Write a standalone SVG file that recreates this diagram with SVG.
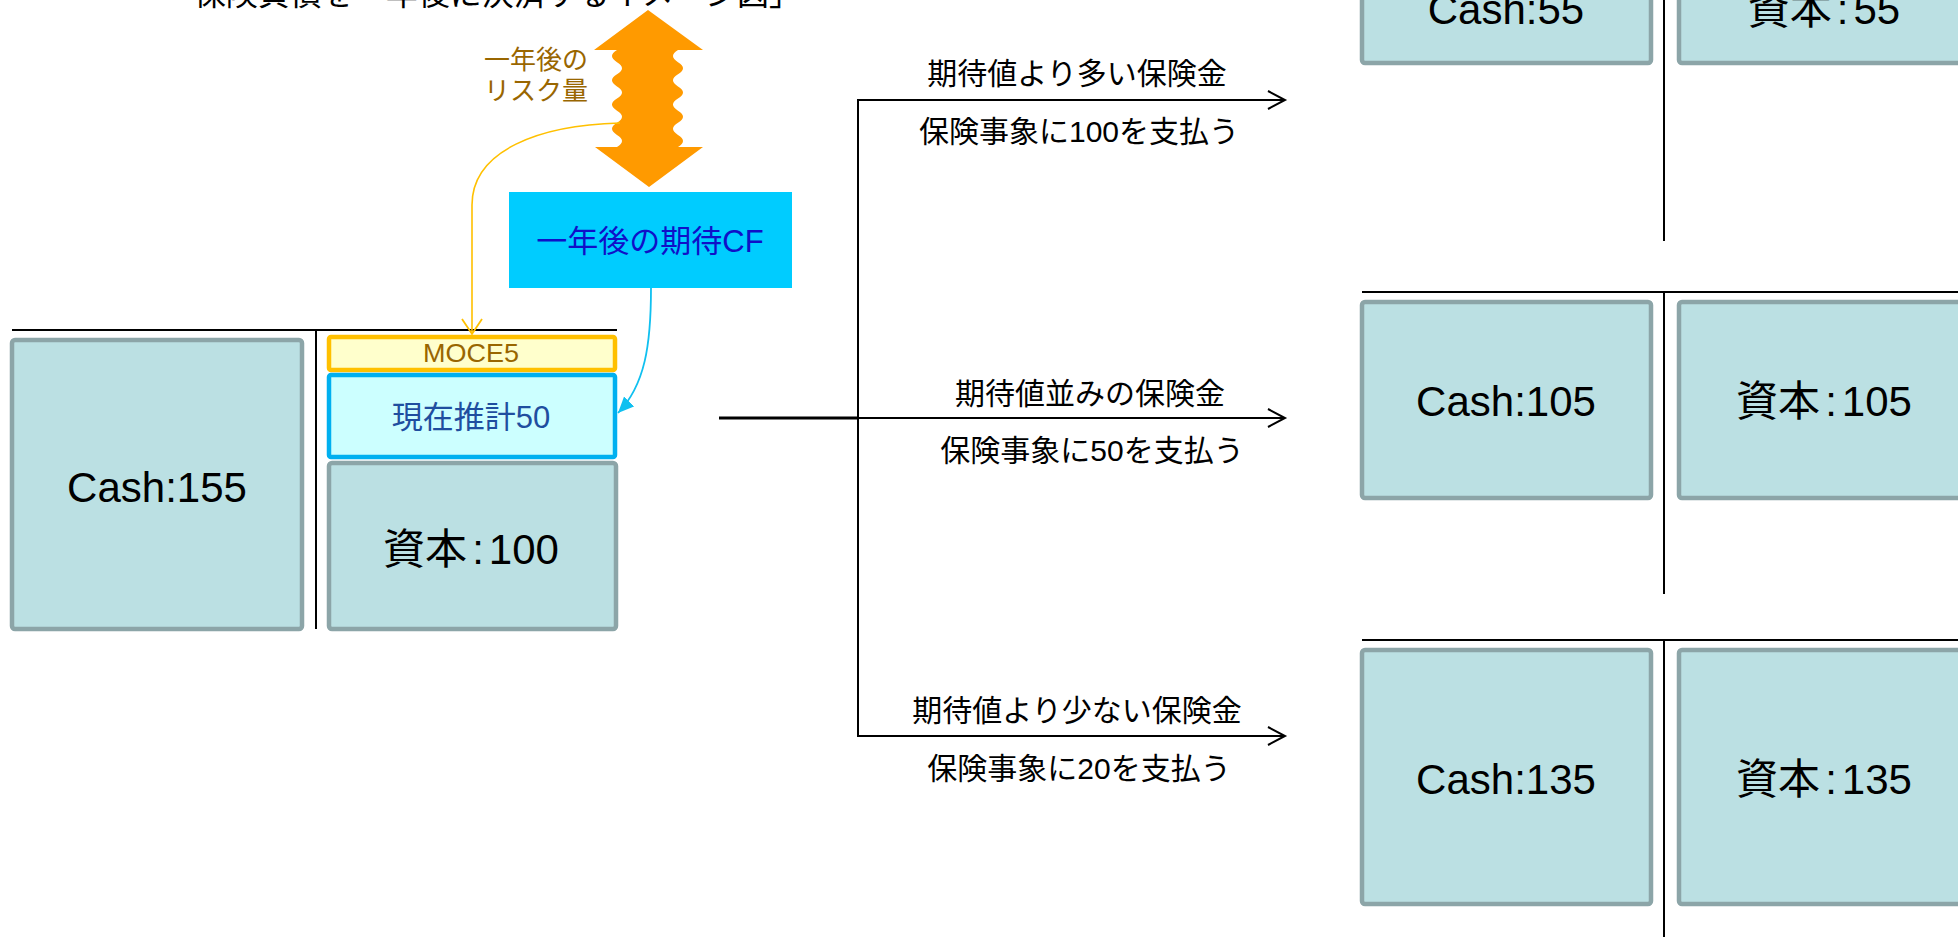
<svg xmlns="http://www.w3.org/2000/svg" width="1958" height="937" viewBox="0 0 1958 937">
<style>
text{font-family:"Liberation Sans","Noto Sans CJK JP",sans-serif;}
.bs{fill:#BBE0E3;stroke:#8CA5A8;stroke-width:4.5;}
.big{font-size:42px;fill:#000;text-anchor:middle;}
.lbl{font-size:30px;fill:#000;text-anchor:middle;}
.tline{stroke:#000;stroke-width:2;fill:none;}
</style>
<defs>
<marker id="openBlack" markerUnits="userSpaceOnUse" markerWidth="22" markerHeight="22" refX="18" refY="10" orient="auto">
<path d="M1,1 L18,10 L1,19" fill="none" stroke="#000" stroke-width="2"/>
</marker>
<marker id="openGold" markerUnits="userSpaceOnUse" markerWidth="26" markerHeight="26" refX="16" refY="11" orient="auto">
<path d="M1,1 L16,11 L1,21" fill="none" stroke="#FFC000" stroke-width="1.8"/>
</marker>
<marker id="fillBlue" markerUnits="userSpaceOnUse" markerWidth="20" markerHeight="20" refX="16" refY="7" orient="auto">
<path d="M0,0 L16,7 L0,14 Z" fill="#10C0F0"/>
</marker>
</defs>

<text id="title" x="801" y="5" font-size="32" text-anchor="end" fill="#000">「保険負債を一年後に決済するイメージ図」</text>

<g id="risk-arrow">
<path fill="#FF9A00" d="M648,10 L703,50 L678,50 Q668,56.06 678,62.125 Q688,68.19 678,74.25 Q668,80.31 678,86.375 Q688,92.44 678,98.5 Q668,104.56 678,110.625 Q688,116.69 678,122.75 Q668,128.81 678,134.875 Q688,140.94 678,147 L703,147 L649,187 L595,147 L617,147 Q627,140.94 617,134.875 Q607,128.81 617,122.75 Q627,116.69 617,110.625 Q607,104.56 617,98.5 Q627,92.44 617,86.375 Q607,80.31 617,74.25 Q627,68.19 617,62.125 Q607,56.06 617,50 L594,50 Z"/>
<text x="484" y="69" font-size="26" fill="#996600">一年後の</text>
<text x="484" y="100" font-size="26" fill="#996600">リスク量</text>
</g>

<g id="expected-cf">
<rect x="509" y="192" width="283" height="96" fill="#00CCFF"/>
<text x="650" y="252" font-size="31" text-anchor="middle" fill="#1010C8">一年後の期待CF</text>
</g>

<g id="bs-now">
<line class="tline" x1="12" y1="330" x2="617" y2="330"/>
<line class="tline" x1="316" y1="330" x2="316" y2="629"/>
<g id="cash155">
<rect class="bs" x="12" y="340" width="290" height="289" rx="3"/>
<text class="big" x="157" y="502">Cash:155</text>
</g>
<g id="moce5">
<rect x="329" y="337" width="286" height="33" rx="2" fill="#FFFFCC" stroke="#FFC000" stroke-width="4.5"/>
<text x="471" y="362" font-size="25" text-anchor="middle" fill="#996600" textLength="96" lengthAdjust="spacingAndGlyphs">MOCE5</text>
</g>
<g id="be50">
<rect x="329" y="375" width="286" height="82" rx="2" fill="#CCFFFF" stroke="#00B0F0" stroke-width="4.5"/>
<text x="471" y="428" font-size="31" text-anchor="middle" fill="#1F4E9F">現在推計50</text>
</g>
<g id="capital100">
<rect class="bs" x="329" y="463" width="287" height="166" rx="3"/>
<text class="big" x="471" y="564">資本<tspan dx="5">:</tspan><tspan dx="5">100</tspan></text>
</g>
</g>

<g id="connectors">
<path d="M620,123 C540,125 472,150 472,205 L472,334" fill="none" stroke="#FFC000" stroke-width="1.6" marker-end="url(#openGold)"/>
<path d="M651,288 C651,345 645,385 618,413" fill="none" stroke="#10C0F0" stroke-width="1.8" marker-end="url(#fillBlue)"/>
<line x1="719" y1="418" x2="858" y2="418" stroke="#000" stroke-width="3"/>
<line x1="858" y1="99" x2="858" y2="737" stroke="#000" stroke-width="2"/>
<line x1="857" y1="100" x2="1285" y2="100" stroke="#000" stroke-width="2" marker-end="url(#openBlack)"/>
<line x1="858" y1="418" x2="1285" y2="418" stroke="#000" stroke-width="2" marker-end="url(#openBlack)"/>
<line x1="857" y1="736" x2="1285" y2="736" stroke="#000" stroke-width="2" marker-end="url(#openBlack)"/>
<text class="lbl" x="1077" y="84">期待値より多い保険金</text>
<text class="lbl" x="1079" y="142">保険事象に100を支払う</text>
<text class="lbl" x="1090" y="404">期待値並みの保険金</text>
<text class="lbl" x="1092" y="461">保険事象に50を支払う</text>
<text class="lbl" x="1077" y="721">期待値より少ない保険金</text>
<text class="lbl" x="1079" y="779">保険事象に20を支払う</text>
</g>

<g id="bs-high">
<line class="tline" x1="1664" y1="0" x2="1664" y2="241"/>
<g id="cash55">
<rect class="bs" x="1362" y="-133" width="289" height="196" rx="3"/>
<text class="big" x="1506" y="24">Cash:55</text>
</g>
<g id="capital55">
<rect class="bs" x="1679" y="-133" width="289" height="196" rx="3"/>
<text class="big" x="1824" y="24">資本<tspan dx="5">:</tspan><tspan dx="5">55</tspan></text>
</g>
</g>

<g id="bs-mid">
<line class="tline" x1="1362" y1="292" x2="1958" y2="292"/>
<line class="tline" x1="1664" y1="292" x2="1664" y2="594"/>
<g id="cash105">
<rect class="bs" x="1362" y="302" width="289" height="196" rx="3"/>
<text class="big" x="1506" y="416">Cash:105</text>
</g>
<g id="capital105">
<rect class="bs" x="1679" y="302" width="289" height="196" rx="3"/>
<text class="big" x="1824" y="416">資本<tspan dx="5">:</tspan><tspan dx="5">105</tspan></text>
</g>
</g>

<g id="bs-low">
<line class="tline" x1="1362" y1="640" x2="1958" y2="640"/>
<line class="tline" x1="1664" y1="640" x2="1664" y2="937"/>
<g id="cash135">
<rect class="bs" x="1362" y="650" width="289" height="254" rx="3"/>
<text class="big" x="1506" y="794">Cash:135</text>
</g>
<g id="capital135">
<rect class="bs" x="1679" y="650" width="289" height="254" rx="3"/>
<text class="big" x="1824" y="794">資本<tspan dx="5">:</tspan><tspan dx="5">135</tspan></text>
</g>
</g>
</svg>
